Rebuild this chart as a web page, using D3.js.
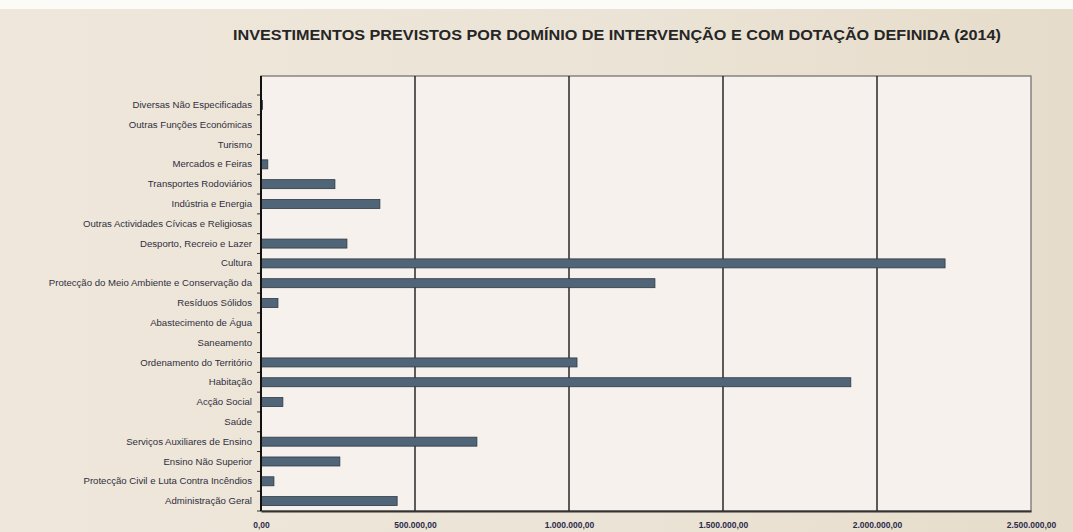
<!DOCTYPE html>
<html>
<head>
<meta charset="utf-8">
<script src="https://cdn.jsdelivr.net/npm/d3@7"></script>
<style>
  body { margin: 0; background: #fff; }
  svg { display: block; }
</style>
</head>
<body>
<svg id="chart" width="1073" height="532"></svg>
<script>
"use strict";

// Data (top to bottom)
const categories = [
  "Diversas Não Especificadas",
  "Outras Funções  Económicas",
  "Turismo",
  "Mercados e Feiras",
  "Transportes Rodoviários",
  "Indústria e Energia",
  "Outras Actividades  Cívicas  e Religiosas",
  "Desporto, Recreio e Lazer",
  "Cultura",
  "Protecção do Meio Ambiente  e Conservação  da",
  "Resíduos Sólidos",
  "Abastecimento de Água",
  "Saneamento",
  "Ordenamento do Território",
  "Habitação",
  "Acção Social",
  "Saúde",
  "Serviços Auxiliares de Ensino",
  "Ensino Não Superior",
  "Protecção Civil e Luta  Contra Incêndios",
  "Administração  Geral"
];
const values = [
  5000, 0, 0, 22000, 240000, 386000, 0, 279000, 2221000, 1279000,
  55000, 0, 0, 1026000, 1915000, 71000, 0, 701000, 256000, 42000, 442000
];
const xTicks = [0, 500000, 1000000, 1500000, 2000000, 2500000];
const xTickLabels = ["0,00", "500.000,00", "1.000.000,00", "1.500.000,00", "2.000.000,00", "2.500.000,00"];
const title = "INVESTIMENTOS  PREVISTOS  POR DOMÍNIO  DE INTERVENÇÃO  E COM DOTAÇÃO  DEFINIDA  (2014)";

const svg = d3.select("#chart");
const W = +svg.attr("width"), H = +svg.attr("height");

// page background
const defs = svg.append("defs");
const grad = defs.append("linearGradient").attr("id", "bg").attr("x1", 0).attr("x2", 1);
grad.append("stop").attr("offset", "0%").attr("stop-color", "#efe7db");
grad.append("stop").attr("offset", "60%").attr("stop-color", "#ebe3d5");
grad.append("stop").attr("offset", "100%").attr("stop-color", "#e6dccb");
svg.append("rect").attr("width", W).attr("height", H).attr("fill", "#fbfbf8");
svg.append("rect").attr("y", 9).attr("width", W).attr("height", H - 9).attr("fill", "url(#bg)");

const plot = { left: 261, right: 1031, top: 76, bottom: 511 };

const x = d3.scaleLinear()
  .domain([0, 2500000])
  .range([plot.left, plot.right]);

const y = d3.scaleBand()
  .domain(categories)
  .range([95, plot.bottom])
  .paddingInner(0)
  .paddingOuter(0);

// plot area
svg.append("rect")
  .attr("x", plot.left).attr("y", plot.top)
  .attr("width", plot.right - plot.left).attr("height", plot.bottom - plot.top)
  .attr("fill", "#f6f1ed")
  .attr("stroke", "#6d6a66").attr("stroke-width", 1.2);

// vertical grid lines
svg.append("g")
  .selectAll("line")
  .data(xTicks.slice(1, -1))
  .enter().append("line")
  .attr("x1", d => x(d)).attr("x2", d => x(d))
  .attr("y1", plot.top).attr("y2", plot.bottom)
  .attr("stroke", "#1a1a1a").attr("stroke-width", 1.4);

// bars
const barH = 9;
svg.append("g")
  .selectAll("rect")
  .data(values)
  .enter().append("rect")
  .attr("x", x(0))
  .attr("y", (d, i) => y(categories[i]) + y.bandwidth() / 2 - barH / 2)
  .attr("width", d => x(d) - x(0))
  .attr("height", barH)
  .attr("fill", "#506577")
  .attr("stroke", d => d > 0 ? "#2e3a44" : "none")
  .attr("stroke-width", 0.8);

// y axis
const yAxis = d3.axisLeft(y).tickSize(0).tickPadding(9);
const gY = svg.append("g")
  .attr("transform", "translate(" + plot.left + ",0)")
  .call(yAxis);
gY.select(".domain").remove();
gY.selectAll("text")
  .attr("font-family", "'Liberation Sans', Arial, sans-serif")
  .attr("font-size", 9.6)
  .attr("fill", "#2f2f3e");

// category boundary ticks
svg.append("g")
  .selectAll("line")
  .data(categories.concat(["_end"]))
  .enter().append("line")
  .attr("x1", plot.left - 4).attr("x2", plot.left)
  .attr("y1", (d, i) => 95 + i * y.step())
  .attr("y2", (d, i) => 95 + i * y.step())
  .attr("stroke", "#333").attr("stroke-width", 1);

svg.append("line")
  .attr("x1", plot.left).attr("x2", plot.left)
  .attr("y1", plot.top).attr("y2", plot.bottom)
  .attr("stroke", "#111").attr("stroke-width", 2);

// x axis
const xAxis = d3.axisBottom(x)
  .tickValues(xTicks)
  .tickFormat((d, i) => xTickLabels[i])
  .tickSize(0)
  .tickPadding(11);
const gX = svg.append("g")
  .attr("transform", "translate(0," + plot.bottom + ")")
  .call(xAxis);
gX.select(".domain").attr("stroke", "#333").attr("stroke-width", 2);
gX.selectAll("text")
  .attr("font-family", "'Liberation Sans', Arial, sans-serif")
  .attr("font-size", 8.5)
  .attr("font-weight", "bold")
  .attr("fill", "#2b2b4a");

// title
svg.append("text")
  .attr("x", 617).attr("y", 40)
  .attr("text-anchor", "middle")
  .attr("font-family", "'Liberation Sans', Arial, sans-serif")
  .attr("font-size", 15)
  .attr("font-weight", "bold")
  .attr("fill", "#262626")
  .attr("textLength", 768)
  .attr("lengthAdjust", "spacingAndGlyphs")
  .text(title);
</script>
</body>
</html>
